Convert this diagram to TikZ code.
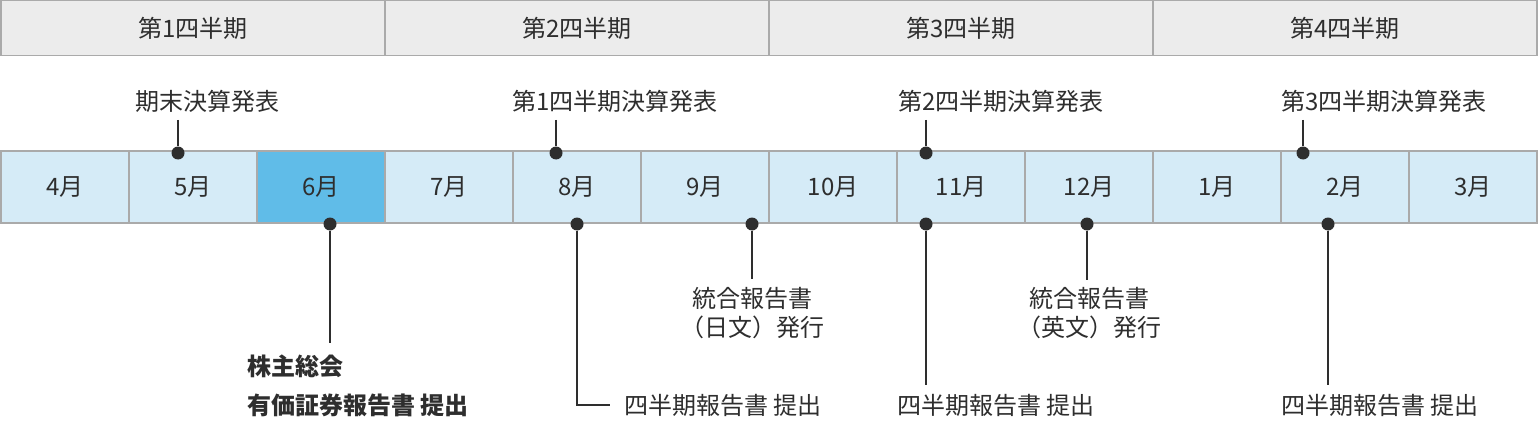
\documentclass[tikz,border=0pt]{standalone}
\usepackage{fontspec}
\setmainfont{Noto Sans CJK JP}
\definecolor{framegray}{HTML}{AAAAAA}
\definecolor{headgray}{HTML}{ECECEC}
\definecolor{mlight}{HTML}{D5EBF7}
\definecolor{mdark}{HTML}{60BCE8}
\definecolor{txt}{HTML}{2E2E2E}
\begin{document}
\begin{tikzpicture}[x=1pt,y=-1pt,
  qbox/.style={draw=framegray, line width=1.2pt, fill=headgray, minimum width=384pt, minimum height=55pt, inner sep=0pt, text=txt, font=\fontsize{24}{27}\selectfont},
  mbox/.style={draw=framegray, line width=1.2pt, fill=mlight, minimum width=128pt, minimum height=72pt, inner sep=0pt, text=txt, font=\fontsize{24}{27}\selectfont},
  dot/.style={circle, fill=txt, minimum size=13pt, inner sep=0pt},
  lbl/.style={inner sep=0pt, text=txt, font=\fontsize{24}{27}\selectfont},
  blbl/.style={inner sep=0pt, text=txt, font=\fontsize{24}{27}\selectfont\bfseries},
  conn/.style={draw=txt, line width=1.3pt}
]
\useasboundingbox (0,0) rectangle (1538,425);
\fill[white] (0,0) rectangle (1538,425);
% quarters
\node[qbox] (q1) at (193,28) {第1四半期};
\node[qbox] (q2) at (577,28) {第2四半期};
\node[qbox] (q3) at (961,28) {第3四半期};
\node[qbox] (q4) at (1345,28) {第4四半期};
% months
\node[mbox] (m4) at (65,187) {4月};
\node[mbox] (m5) at (193,187) {5月};
\node[mbox, fill=mdark] (m6) at (321,187) {6月};
\node[mbox] (m7) at (449,187) {7月};
\node[mbox] (m8) at (577,187) {8月};
\node[mbox] (m9) at (705,187) {9月};
\node[mbox] (m10) at (833,187) {10月};
\node[mbox] (m11) at (961,187) {11月};
\node[mbox] (m12) at (1089,187) {12月};
\node[mbox] (m1) at (1217,187) {1月};
\node[mbox] (m2) at (1345,187) {2月};
\node[mbox] (m3) at (1473,187) {3月};
% upper events
\node[lbl] (u1) at (207,101) {期末決算発表};
\node[lbl] (u2) at (615,101) {第1四半期決算発表};
\node[lbl] (u3) at (1001,101) {第2四半期決算発表};
\node[lbl] (u4) at (1384,101) {第3四半期決算発表};
\coordinate (u1e) at (178,120);
\coordinate (u2e) at (556,120);
\coordinate (u3e) at (926,120);
\coordinate (u4e) at (1303,120);
\node[dot] (d1) at (178,153) {};
\node[dot] (d2) at (556,153) {};
\node[dot] (d3) at (926,153) {};
\node[dot] (d4) at (1303,153) {};
\draw[conn] (u1e) -- (d1);
\draw[conn] (u2e) -- (d2);
\draw[conn] (u3e) -- (d3);
\draw[conn] (u4e) -- (d4);
% lower events
\node[dot] (e6) at (330,224) {};
\node[dot] (e8) at (577,224) {};
\node[dot] (e9) at (752,224) {};
\node[dot] (e11) at (926,224) {};
\node[dot] (e12) at (1087,224) {};
\node[dot] (e2) at (1328,224) {};
\coordinate (c6) at (330,343);
\coordinate (c8) at (610,405);
\coordinate (c9) at (752,279);
\coordinate (c11) at (926,385);
\coordinate (c12) at (1087,280);
\coordinate (c2) at (1328,385);
\draw[conn] (e6) -- (c6);
\draw[conn] (e8) |- (c8);
\draw[conn] (e9) -- (c9);
\draw[conn] (e11) -- (c11);
\draw[conn] (e12) -- (c12);
\draw[conn] (e2) -- (c2);
\node[blbl, anchor=west] (t6a) at (247,366) {株主総会};
\node[blbl, anchor=west] (t6b) at (247,405) {有価証券報告書 提出};
\node[lbl, anchor=west] (t8) at (624,405) {四半期報告書 提出};
\node[lbl, anchor=west] (t9a) at (692,298) {統合報告書};
\node[lbl, anchor=west] (t9b) at (680,327) {（日文）発行};
\node[lbl, anchor=west] (t11) at (897,405) {四半期報告書 提出};
\node[lbl, anchor=west] (t12a) at (1029,298) {統合報告書};
\node[lbl, anchor=west] (t12b) at (1017,327) {（英文）発行};
\node[lbl, anchor=west] (t2) at (1281,405) {四半期報告書 提出};
\end{tikzpicture}
\end{document}
